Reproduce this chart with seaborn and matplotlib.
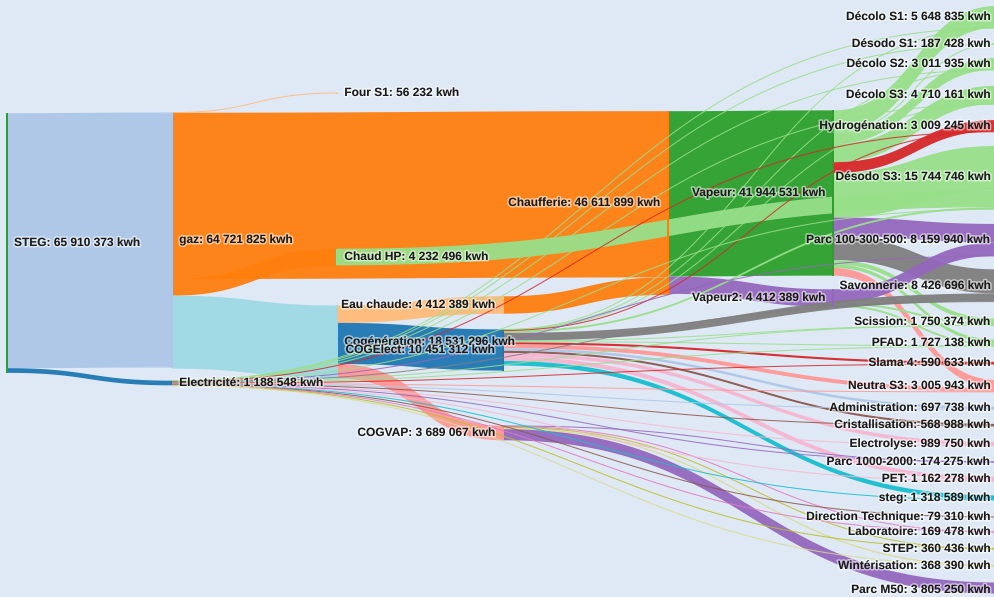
import numpy as np
import matplotlib
matplotlib.use("Agg")
import matplotlib.pyplot as plt
import matplotlib.patheffects as pe
import seaborn as sns

# ---- data ---------------------------------------------------------------
node_names = [
    "STEG", "gaz", "Electricité", "Four S1", "Chaud HP", "Cogénération",
    "Eau chaude", "COGElect", "COGVAP", "Chaufferie", "Vapeur", "Vapeur2",
    "Décolo S1", "Désodo S1", "Décolo S2", "Décolo S3", "Hydrogénation",
    "Désodo S3", "Parc 100-300-500", "Savonnerie", "Scission", "PFAD",
    "Slama 4", "Neutra S3", "Administration", "Cristallisation", "Electrolyse",
    "Parc 1000-2000", "PET", "steg", "Direction Technique", "Laboratoire",
    "STEP", "Wintérisation", "Parc M50",
]
node_values = [
    65910373, 64721825, 1188548, 56232, 4232496, 18531296,
    4412389, 10451312, 3689067, 46611899, 41944531, 4412389,
    5648835, 187428, 3011935, 4710161, 3009245,
    15744746, 8159940, 8426696, 1750374, 1727138,
    590633, 3005943, 697738, 568988, 989750,
    174275, 1162278, 1318589, 79310, 169478,
    360436, 368390, 3805250,
]

# links: source, target, value (kwh)
links = [
    ("STEG", "gaz", 64721825), ("STEG", "Electricité", 1188548),
    ("gaz", "Four S1", 56232), ("gaz", "Chaufferie", 42199510),
    ("gaz", "Chaud HP", 4232496), ("gaz", "Cogénération", 18531296),
    ("Cogénération", "Eau chaude", 4412389), ("Cogénération", "COGElect", 10451312),
    ("Cogénération", "COGVAP", 3689067), ("Eau chaude", "Chaufferie", 4412389),
    ("Chaufferie", "Vapeur", 41944531), ("Chaufferie", "Vapeur2", 4412389),
    ("Chaud HP", "Désodo S3", 4232496),
    # Vapeur
    ("Vapeur", "Décolo S1", 5500000), ("Vapeur", "Désodo S1", 150000),
    ("Vapeur", "Décolo S2", 2900000), ("Vapeur", "Décolo S3", 4600000),
    ("Vapeur", "Hydrogénation", 2750000), ("Vapeur", "Désodo S3", 11300000),
    ("Vapeur", "Parc 100-300-500", 4700000), ("Vapeur", "Savonnerie", 6100000),
    ("Vapeur", "Scission", 1100000), ("Vapeur", "PFAD", 900000),
    ("Vapeur", "Neutra S3", 1944531),
    # Vapeur2
    ("Vapeur2", "Parc 100-300-500", 3400000), ("Vapeur2", "Scission", 500000),
    ("Vapeur2", "PFAD", 512389),
    # COGElect
    ("COGElect", "Décolo S1", 90000), ("COGElect", "Décolo S2", 60000),
    ("COGElect", "Décolo S3", 60000), ("COGElect", "Hydrogénation", 160000),
    ("COGElect", "Désodo S3", 500000), ("COGElect", "Savonnerie", 2000000),
    ("COGElect", "Scission", 100000), ("COGElect", "PFAD", 300000),
    ("COGElect", "Slama 4", 540000), ("COGElect", "Neutra S3", 1000000),
    ("COGElect", "Administration", 640000), ("COGElect", "Cristallisation", 520000),
    ("COGElect", "Electrolyse", 940000), ("COGElect", "PET", 1100000),
    ("COGElect", "steg", 1141312),
    # COGVAP
    ("COGVAP", "Parc 1000-2000", 120000), ("COGVAP", "Laboratoire", 120000),
    ("COGVAP", "STEP", 300000), ("COGVAP", "Wintérisation", 330000),
    ("COGVAP", "Parc M50", 2819067),
    # Electricité
    ("Electricité", "Décolo S1", 58835), ("Electricité", "Désodo S1", 37428),
    ("Electricité", "Décolo S2", 51935), ("Electricité", "Décolo S3", 50161),
    ("Electricité", "Hydrogénation", 99245), ("Electricité", "Désodo S3", 44746),
    ("Electricité", "Parc 100-300-500", 59940), ("Electricité", "Savonnerie", 126696),
    ("Electricité", "Scission", 50374), ("Electricité", "PFAD", 34749),
    ("Electricité", "Slama 4", 50633), ("Electricité", "Neutra S3", 65943),
    ("Electricité", "Administration", 57738), ("Electricité", "Cristallisation", 48988),
    ("Electricité", "Electrolyse", 49750), ("Electricité", "Parc 1000-2000", 54275),
    ("Electricité", "PET", 62278), ("Electricité", "steg", 40000),
    ("Electricité", "Direction Technique", 79310), ("Electricité", "Laboratoire", 49478),
    ("Electricité", "STEP", 60436), ("Electricité", "Wintérisation", 38390),
]

# ---- layout / style ----------------------------------------------------
node_col = [0, 1, 1, 2, 2, 2, 3, 3, 3, 4, 5, 5] + [6] * 23
node_yc = [243, 240, 383, 93, 257, 342, 305, 350, 433, 203, 193, 298,
           17, 44, 64, 95, 126, 177, 240, 286, 322, 343, 363, 386,
           408, 425, 444, 462, 479, 498, 517, 532, 549, 566, 590]
pal = sns.color_palette("tab20")
link_pal = {
    ("STEG", "gaz"): 1, ("STEG", "Electricité"): 0, ("gaz", "Four S1"): 3,
    ("gaz", "Chaufferie"): 2, ("gaz", "Chaud HP"): 2, ("gaz", "Cogénération"): 19,
    ("Cogénération", "Eau chaude"): 3, ("Cogénération", "COGElect"): 0,
    ("Cogénération", "COGVAP"): 7, ("Eau chaude", "Chaufferie"): 2,
    ("Chaufferie", "Vapeur"): 4, ("Chaufferie", "Vapeur2"): 8,
}
target_pal = {
    "Décolo S1": 5, "Désodo S1": 5, "Décolo S2": 5, "Décolo S3": 5,
    "Hydrogénation": 6, "Désodo S3": 5, "Parc 100-300-500": 8, "Savonnerie": 14,
    "Scission": 5, "PFAD": 5, "Slama 4": 6, "Neutra S3": 7, "Administration": 1,
    "Cristallisation": 10, "Electrolyse": 13, "Parc 1000-2000": 8, "PET": 13,
    "steg": 18, "Direction Technique": 10, "Laboratoire": 12, "STEP": 16,
    "Wintérisation": 17, "Parc M50": 8,
}
node_pal = [4, 1, 0, 3, 5, 19, 3, 0, 7, 2, 4, 8] + [5] * 23

W, H = 995, 597
col_x = lambda c: 7 + c * 165.17
k = 255.0 / 64721825  # px per kwh
bg = "#dfe9f5"

sns.set_theme(style="white")
fig = plt.figure(figsize=(W / 100, H / 100), dpi=100, facecolor=bg)
ax = fig.add_axes([0, 0, 1, 1])
ax.set_xlim(0, W)
ax.set_ylim(H, 0)
ax.axis("off")
ax.set_facecolor(bg)

idx = {n: i for i, n in enumerate(node_names)}
node_top = [yc - v * k / 2 for yc, v in zip(node_yc, node_values)]

# stacking offsets at source (sorted by target y) and target (sorted by source y)
src_off, tgt_off = {}, {}
for n in node_names:
    outs = sorted([l for l in links if l[0] == n], key=lambda l: node_yc[idx[l[1]]])
    y = node_top[idx[n]]
    for l in outs:
        src_off[l] = y
        y += l[2] * k
    ins = sorted([l for l in links if l[1] == n], key=lambda l: node_yc[idx[l[0]]])
    y = node_top[idx[n]]
    for l in ins:
        tgt_off[l] = y
        y += l[2] * k

t = np.linspace(0, 1, 80)
b0, b1, b2, b3 = (1 - t) ** 3, 3 * (1 - t) ** 2 * t, 3 * (1 - t) * t ** 2, t ** 3

for l in links:
    s, g, v = l
    x0, x1 = col_x(node_col[idx[s]]), col_x(node_col[idx[g]])
    xm = (x0 + x1) / 2
    bx = b0 * x0 + (b1 + b2) * xm + b3 * x1
    w = v * k
    ya, yb = src_off[l], tgt_off[l]
    top = (b0 + b1) * ya + (b2 + b3) * yb
    bot = top + w
    c = pal[link_pal.get((s, g), target_pal.get(g, 15))]
    if w < 1.3:
        ax.plot(bx, top + w / 2, color=c, lw=0.75, alpha=0.85, solid_capstyle="butt")
    else:
        ax.fill(np.r_[bx, bx[::-1]], np.r_[top, bot[::-1]], color=c, alpha=0.95, lw=0)

for i, n in enumerate(node_names):
    x = col_x(node_col[i])
    h = max(node_values[i] * k, 0.8)
    ax.add_patch(plt.Rectangle((x - 1, node_top[i]), 2, h, color=pal[node_pal[i]], lw=0))

shadow = [pe.withStroke(linewidth=2.2, foreground="white", alpha=0.55)]
for i, n in enumerate(node_names):
    x = col_x(node_col[i])
    label = f"{n}: {node_values[i]:,} kwh".replace(",", " ")
    if x < W / 2 - 10:
        ax.text(x + 7, node_yc[i], label, ha="left", va="center", fontsize=8.6,
                fontweight="bold", family="Liberation Sans", color="#1a1a1a",
                path_effects=shadow)
    else:
        ax.text(x - 8, node_yc[i], label, ha="right", va="center", fontsize=8.6,
                fontweight="bold", family="Liberation Sans", color="#1a1a1a",
                path_effects=shadow)

fig.savefig("out.png", dpi=100, facecolor=bg)
